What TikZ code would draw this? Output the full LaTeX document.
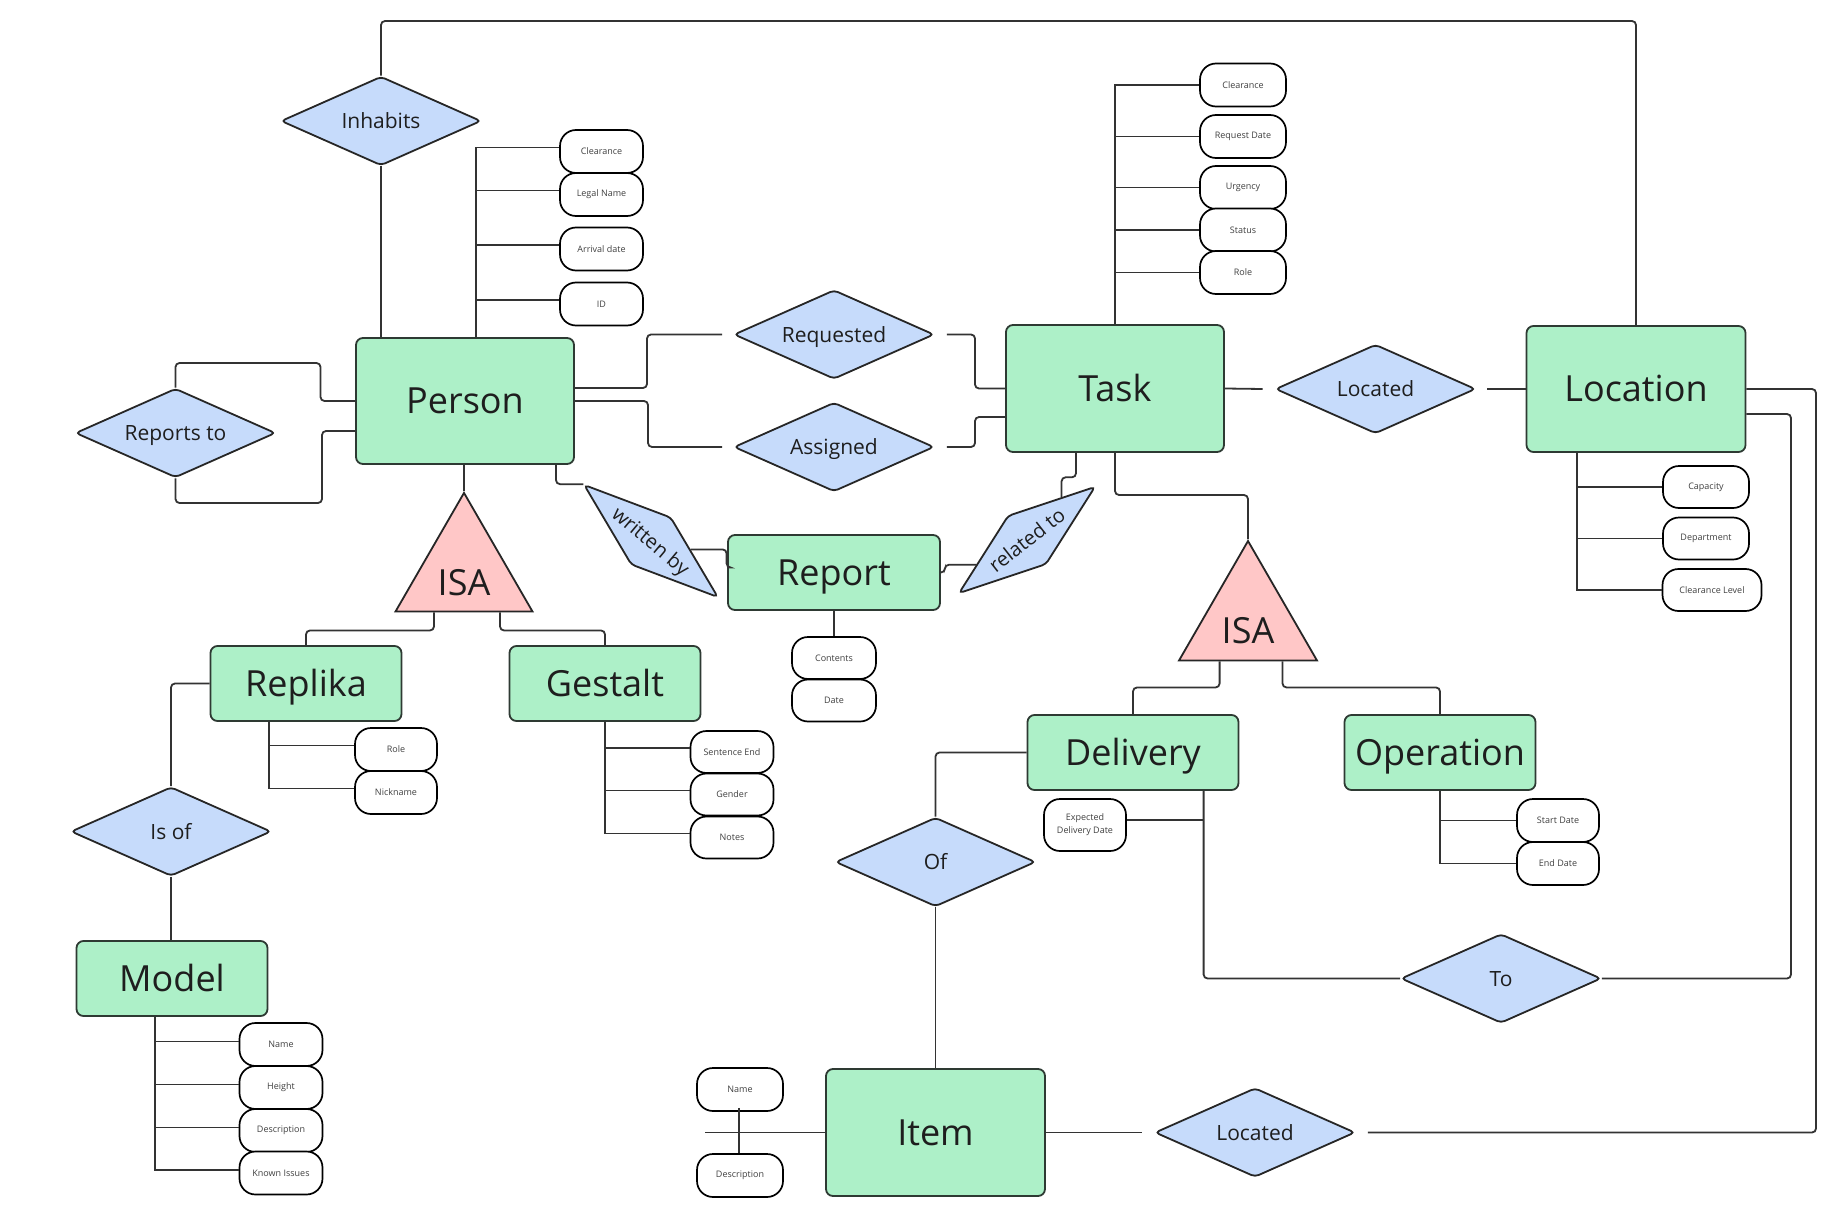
\documentclass[tikz,border=0pt]{standalone}
\usepackage{fontspec}
\setmainfont{Open Sans}
\usetikzlibrary{shapes.geometric}
\definecolor{entfill}{HTML}{ADF0C8}
\definecolor{entdraw}{HTML}{2E3A33}
\definecolor{relfill}{HTML}{C6DBFB}
\definecolor{isafill}{HTML}{FFC7C7}
\definecolor{lncol}{HTML}{333333}
\definecolor{txtcol}{HTML}{1E1E1E}
\begin{document}
\begin{tikzpicture}[x=1pt,y=-1pt,
  conn/.style={draw=lncol, line width=1.8pt, rounded corners=4pt},
  spine/.style={draw=lncol, line width=1.8pt, sharp corners},
  entity/.style={rectangle, rounded corners=7pt, fill=entfill, draw=entdraw, line width=1.8pt, inner sep=0pt, text=txtcol, font=\fontsize{36}{40}\selectfont, text height=25pt, text depth=0pt},
  rel/.style={diamond, shape aspect=2.25, fill=relfill, draw=black!85, line width=1.8pt, rounded corners=4pt, inner sep=0pt, minimum width=200pt, minimum height=89pt, text=txtcol, font=\fontsize{21}{24}\selectfont, text height=15pt, text depth=0pt},
  rotrel/.style={rel, shape aspect=2.8, minimum height=62pt, font=\fontsize{20}{24}\selectfont, text height=14.3pt},
  attr/.style={rectangle, rounded corners=16pt, fill=white, draw=black, line width=1.7pt, inner sep=0pt, minimum height=43pt, minimum width=83pt, text=black!75, font=\fontsize{9}{12}\selectfont, align=center},
  isa/.style={regular polygon, regular polygon sides=3, fill=isafill, draw=black!85, line width=1.8pt, inner sep=0pt},
  isatext/.style={text=txtcol, font=\fontsize{36}{40}\selectfont, inner sep=0pt}
]
\path[fill=white] (0,0) rectangle (1836,1225);
\useasboundingbox (0,0) rectangle (1836,1225);

% entities
\node[entity, minimum width=218pt, minimum height=126pt] (person) at (465,401) {Person};
\node[entity, minimum width=218pt, minimum height=127pt] (task) at (1115,388.5) {Task};
\node[entity, minimum width=219pt, minimum height=126pt] (location) at (1636,389) {Location};
\node[entity, minimum width=212pt, minimum height=75pt] (report) at (834,572.5) {Report};
\node[entity, minimum width=191pt, minimum height=75pt] (replika) at (306,683.5) {Replika};
\node[entity, minimum width=191pt, minimum height=75pt] (gestalt) at (605,683.5) {Gestalt};
\node[entity, minimum width=191pt, minimum height=75pt] (model) at (172,978.5) {Model};
\node[entity, minimum width=211pt, minimum height=75pt] (delivery) at (1133,752.5) {Delivery};
\node[entity, minimum width=191pt, minimum height=75pt] (operation) at (1440,752.5) {Operation};
\node[entity, minimum width=219pt, minimum height=127pt] (item) at (935.5,1132.5) {Item};

% relationships
\node[rel] (inhabits) at (381,121) {Inhabits};
\node[rel] (reportsto) at (175.5,433) {Reports to};
\node[rel] (requested) at (834,334.5) {Requested};
\node[rel] (assigned) at (834,447) {Assigned};
\node[rel] (located) at (1375.5,389) {Located};
\node[rel] (isof) at (171,831.5) {Is of};
\node[rel] (of) at (935.5,862) {Of};
\node[rel] (to) at (1501,978.5) {To};
\node[rel] (located2) at (1255,1132.5) {Located};
\node[rotrel, minimum width=175pt, rotate=-40] (writtenby) at (651,541) {written by};
\node[rotrel, minimum width=173pt, rotate=38] (relatedto) at (1027,540) {related to};

% ISA
\node[isa, minimum size=158.2pt] (isa1) at (464,572) {};
\node[isatext] (isa1t) at (464,583) {ISA};
\node[isa, minimum size=159.4pt] (isa2) at (1248,620.7) {};
\node[isatext] (isa2t) at (1248,631) {ISA};

% attributes
\node[attr] (pclr) at (601.5,151.5) {Clearance};
\node[attr] (plegal) at (601.5,194.5) {Legal Name};
\node[attr] (parr) at (601.5,249) {Arrival date};
\node[attr] (pid) at (601.5,304) {ID};

\node[attr, minimum width=86pt] (tclr) at (1243,85) {Clearance};
\node[attr, minimum width=86pt] (treq) at (1243,136.5) {Request Date};
\node[attr, minimum width=86pt] (turg) at (1243,187.5) {Urgency};
\node[attr, minimum width=86pt] (tstat) at (1243,230) {Status};
\node[attr, minimum width=86pt] (trole) at (1243,272.5) {Role};

\node[attr, minimum width=86pt, minimum height=42pt] (lcap) at (1706,487) {Capacity};
\node[attr, minimum width=86pt, minimum height=42pt] (ldept) at (1706,538.5) {Department};
\node[attr, minimum width=99pt, minimum height=42pt] (lclr) at (1712,590) {Clearance Level};

\node[attr, minimum width=84pt, minimum height=42pt] (rcont) at (834,658) {Contents};
\node[attr, minimum width=84pt, minimum height=42pt] (rdate) at (834,700.5) {Date};

\node[attr, minimum width=82pt] (rrole) at (396,749.5) {Role};
\node[attr, minimum width=82pt] (rnick) at (396,792.5) {Nickname};

\node[attr, minimum height=42pt] (gsent) at (732,752) {Sentence End};
\node[attr, minimum height=42pt] (ggen) at (732,794.5) {Gender};
\node[attr, minimum height=42pt] (gnotes) at (732,837.5) {Notes};

\node[attr] (mname) at (281,1044.5) {Name};
\node[attr] (mheight) at (281,1087.5) {Height};
\node[attr] (mdesc) at (281,1130.5) {Description};
\node[attr] (missues) at (281,1173) {Known Issues};

\node[attr, minimum width=82pt] (ostart) at (1558,820.5) {Start Date};
\node[attr, minimum width=82pt] (oend) at (1558,863.5) {End Date};

\node[attr, minimum width=82pt, minimum height=52pt, font=\fontsize{9}{13}\selectfont] (dedd) at (1085,825) {Expected\\Delivery Date};

\node[attr, minimum width=86pt] (iname) at (740,1089.5) {Name};
\node[attr, minimum width=86pt] (idesc) at (740,1175.5) {Description};

% attribute spines
\foreach \a in {pclr,plegal,parr,pid}
  \draw[spine] ([xshift=11pt]person.north) |- ([yshift=4pt]\a.west);
\foreach \a in {tclr,treq,turg,tstat,trole}
  \draw[spine] (task.north) |- (\a.west);
\foreach \a in {lcap,ldept,lclr}
  \draw[spine] ([xshift=-59pt]location.south) |- (\a.west);
\foreach \a in {rrole,rnick}
  \draw[spine] ([xshift=-37pt]replika.south) |- ([yshift=4pt]\a.west);
\foreach \a in {gsent,ggen,gnotes}
  \draw[spine] (gestalt.south) |- ([yshift=4pt]\a.west);
\foreach \a in {mname,mheight,mdesc,missues}
  \draw[spine] ([xshift=-17.4pt]model.south) |- ([yshift=3pt]\a.west);
\foreach \a in {ostart,oend}
  \draw[spine] (operation.south) |- (\a.west);
\draw[spine] (report.south) -- (rcont.north);
\coordinate (ileft) at (705,1132.5);
\draw[spine] (item.west) -- (ileft);
\draw[spine] ([yshift=4pt,xshift=-1pt]iname.south) -- ([xshift=-1pt]idesc.north);

% connectors
\draw[conn] (inhabits.north) -- (381,21) -| (location.north);
\draw[conn] (inhabits.south) -- (inhabits.south |- person.north);
\draw[conn] (person.west) -- (320.5,401) -- (320.5,363) -| (reportsto.north);
\draw[conn] ([yshift=-30pt]person.west) -- (322,431) -- (322,503) -| (reportsto.south);
\draw[conn] ([yshift=13pt]person.east) -- (647,388) |- ([xshift=-11pt]requested.west);
\draw[conn] ([xshift=12pt]requested.east) -- (975,334.5) |- (task.west);
\draw[conn] (person.east) -- (648,401) |- ([xshift=-11pt]assigned.west);
\draw[conn] ([xshift=12pt]assigned.east) -- (975,447) |- ([yshift=-28.5pt]task.west);
\draw[conn] (task.east) -- ([xshift=-12pt]located.west);
\draw[conn] ([xshift=11pt]located.east) -- (location.west);
\draw[conn] (isa1.corner 1 |- person.south) -- (isa1.corner 1);
\draw[conn] ([xshift=-30pt]isa1.south) -- ++(0,18) -| (replika.north);
\draw[conn] ([xshift=36pt]isa1.south) -- ++(0,18) -| (gestalt.north);
\draw[conn] (replika.west) -| (isof.north);
\draw[conn] (isof.south) -- (isof.south |- model.north);
\draw[conn] ([xshift=91pt]person.south) |- (writtenby.west);
\draw[conn] (writtenby.28) -- ++(36,0) |- ([yshift=5pt]report.west);
\draw[conn] (report.east) -- ++(4,0) |- (relatedto.168);
\draw[conn] (relatedto.13) -- ++(0,-20) -| ([xshift=-39pt]task.south);
\draw[conn] (task.south) -- (1115,495) -| (isa2.corner 1);
\draw[conn] ([xshift=-28.4pt]isa2.south) -- ++(0,26) -| (delivery.north);
\draw[conn] ([xshift=34.5pt]isa2.south) -- ++(0,26) -| (operation.north);
\draw[conn] (delivery.west) -| (of.north);
\draw[conn] (of.south) -- (of.south |- item.north);
\draw[conn] (item.east) -- ([xshift=-12pt]located2.west);
\draw[conn] ([xshift=12pt]located2.east) -- (1816,1132.5) |- (location.east);
\coordinate (dsp) at ([xshift=70.6pt]delivery.south);
\draw[conn] (dsp) |- (to.west);
\draw[spine] ([yshift=5pt]dedd.east) -- ([yshift=5pt]dedd.east -| dsp);
\draw[conn] (to.east) -- (1791,978.5) |- ([yshift=-25pt]location.east);
\end{tikzpicture}
\end{document}
